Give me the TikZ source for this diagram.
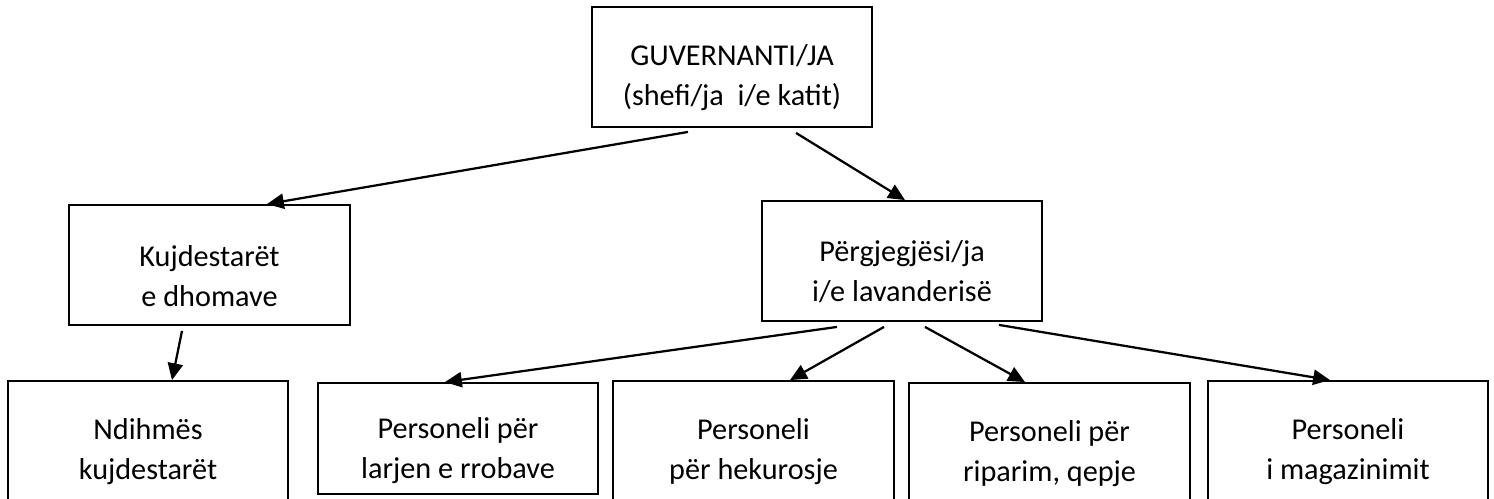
\documentclass[tikz,border=0pt]{standalone}
\usepackage{fontspec}
\setmainfont{Carlito}
\usetikzlibrary{arrows.meta}
\newcommand{\topgap}{\rule{0pt}{1.4em}}
\begin{document}
\begin{tikzpicture}[x=0.025cm,y=-0.025cm,
 box/.style={draw,line width=1.3pt,rectangle,minimum width=7cm,minimum height=3cm,align=center,
  font=\fontsize{21.5pt}{28.5pt}\selectfont},
 arr/.style={line width=1.6pt,-{Triangle[length=0.42cm,width=0.38cm]}}]
 \useasboundingbox (0,0) rectangle (1494,499);
 \node[box] (gov) at (732,67) {\topgap GUVERNANTI/JA\\(shefi/ja\ \ i/e katit)};
 \node[box,minimum width=7.025cm] (kujd) at (209.5,265) {\topgap Kujdestarët\\e dhomave};
 \node[box] (perg) at (902,261) {\topgap Përgjegjësi/ja\\i/e lavanderisë};
 \node[box] (ndih) at (148,441) {\topgap Ndihmës\\kujdestarët};
 \node[box,minimum height=2.775cm] (larj) at (458,438.5) {\rule{0pt}{1.5em}Personeli për\\larjen e rrobave};
 \node[box,minimum width=7.025cm] (hek) at (753.5,441) {\topgap Personeli\\për hekurosje};
 \node[box,minimum width=7.025cm] (rip) at (1049.5,443) {\topgap Personeli për\\riparim, qepje};
 \node[box] (mag) at (1348,441) {\topgap Personeli\\i magazinimit};
 \draw[arr] ([shift={(-44,4)}]gov.south) -- ([shift={(57.5,0)}]kujd.north);
 \draw[arr] ([shift={(64,5)}]gov.south) -- ([shift={(3,0)}]perg.north);
 \draw[arr] ([shift={(-27.5,5)}]kujd.south) -- ([shift={(24,0)}]ndih.north);
 \draw[arr] ([shift={(-65,5)}]perg.south) -- ([shift={(-13,0)}]larj.north);
 \draw[arr] ([shift={(-18,5)}]perg.south) -- ([shift={(36.5,0)}]hek.north);
 \draw[arr] ([shift={(23,5)}]perg.south) -- ([shift={(-24.5,0)}]rip.north);
 \draw[arr] ([shift={(97,3)}]perg.south) -- ([shift={(-18,0)}]mag.north);
\end{tikzpicture}
\end{document}
